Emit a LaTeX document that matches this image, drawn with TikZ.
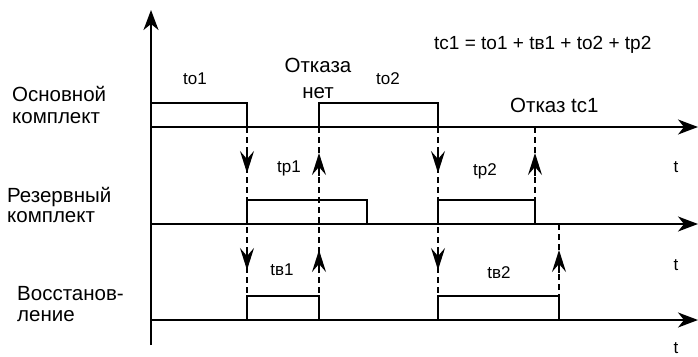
\documentclass[tikz,border=0pt]{standalone}
\usepackage{fontspec}
\setmainfont{Liberation Sans}
\usetikzlibrary{arrows.meta}
\begin{document}
\begin{tikzpicture}[x=1pt,y=-1pt,
  axline/.style={line width=1.8pt,-{Stealth[length=20pt,width=15pt,inset=6pt]}},
  boxline/.style={line width=1.5pt},
  dline/.style={line width=1.4pt,dash pattern=on 6pt off 4pt},
  headarrow/.style={line width=1.4pt,-{Stealth[length=22pt,width=14pt,inset=8pt]}},
  small/.style={font=\fontsize{17}{20}\selectfont,inner sep=0pt},
  formula/.style={font=\fontsize{19}{22}\selectfont,inner sep=0pt},
  big/.style={font=\fontsize{20.5}{23}\selectfont,inner sep=0pt},
]
\useasboundingbox (0,0) rectangle (698,356);
% axes
\coordinate (o) at (151,345);
\coordinate (top) at (151,10);
\coordinate (a1) at (151,127); \coordinate (e1) at (698,127);
\coordinate (a2) at (151,224); \coordinate (e2) at (698,224);
\coordinate (a3) at (151,320); \coordinate (e3) at (698,320);
\draw[axline] (o) -- (top);
\draw[axline] (a1) -- (e1);
\draw[axline] (a2) -- (e2);
\draw[axline] (a3) -- (e3);
% boxes
\draw[boxline] (151,103) -- (247,103) -- (247,127);
\draw[boxline] (319,127) -- (319,103) -- (438,103) -- (438,127);
\draw[boxline] (247,224) -- (247,200) -- (367,200) -- (367,224);
\draw[boxline] (438,224) -- (438,200) -- (535,200) -- (535,224);
\draw[boxline] (247,320) -- (247,296) -- (319,296) -- (319,320);
\draw[boxline] (438,320) -- (438,296) -- (559,296) -- (559,320);
% dashed lines
\coordinate (d1t) at (247,127); \coordinate (d1b) at (247,296);
\coordinate (d2t) at (319,127); \coordinate (d2b) at (319,296);
\coordinate (d3t) at (438,127); \coordinate (d3b) at (438,296);
\coordinate (d4t) at (535,127); \coordinate (d4b) at (535,200);
\coordinate (d5t) at (559,224); \coordinate (d5b) at (559,296);
\draw[dline] (d1t) -- (d1b);
\draw[dline] (d2t) -- (d2b);
\draw[dline] (d3t) -- (d3b);
\draw[dline] (d4t) -- (d4b);
\draw[dline] (d5t) -- (d5b);
% arrowheads
\draw[headarrow] (247,151) -- (247,173);
\draw[headarrow] (247,248) -- (247,270);
\draw[headarrow] (438,151) -- (438,173);
\draw[headarrow] (438,248) -- (438,270);
\draw[headarrow] (319,176) -- (319,153);
\draw[headarrow] (319,273) -- (319,250);
\draw[headarrow] (535,176) -- (535,153);
\draw[headarrow] (559,273) -- (559,250);
% left labels
\node[big,anchor=base west] (l1a) at (12,101) {Основной};
\node[big,anchor=base west] (l1b) at (12,123) {комплект};
\node[big,anchor=base west] (l2a) at (7,202) {Резервный};
\node[big,anchor=base west] (l2b) at (7,222) {комплект};
\node[big,anchor=base west] (l3a) at (17,300) {Восстанов-};
\node[big,anchor=base west] (l3b) at (17,321) {ление};
% interval labels
\node[small] (to1) at (195,79) {to1};
\node[small] (to2) at (388,79) {to2};
\node[small] (tp1) at (289,168) {tp1};
\node[small] (tp2) at (485,171) {tp2};
\node[small] (tv1) at (282,270) {tв1};
\node[small] (tv2) at (499,273) {tв2};
\node[small] (t1) at (676,167) {t};
\node[small] (t2) at (676,265) {t};
\node[small,anchor=base] (t3) at (676,353) {t};
% events
\node[big,anchor=base] (otk1) at (318,72) {Отказа};
\node[big,anchor=base] (otk2) at (318,98) {нет};
\node[big,anchor=base west] (otk3) at (510,112) {Отказ tc1};
\node[formula,anchor=base west] (form) at (434,49) {tc1 = to1 + tв1 + to2 + tp2};
\end{tikzpicture}
\end{document}
